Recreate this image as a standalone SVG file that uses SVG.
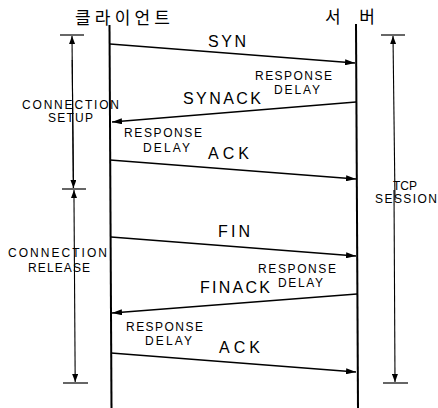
<svg xmlns="http://www.w3.org/2000/svg" width="438" height="408" viewBox="0 0 438 408">
<defs>
<marker id="ah" viewBox="0 0 10 6" refX="10" refY="3" markerWidth="10" markerHeight="6" markerUnits="userSpaceOnUse" orient="auto">
<path d="M0,0 L10,3 L0,6 Z" fill="#000"/>
</marker>
<marker id="bh" viewBox="0 0 8 6" refX="8" refY="3" markerWidth="8" markerHeight="6" markerUnits="userSpaceOnUse" orient="auto">
<path d="M0,0 L8,3 L0,6 Z" fill="#000"/>
</marker>
</defs>
<style>
.life{stroke:#000;stroke-width:2;fill:none}
.msg{stroke:#000;stroke-width:1.6;fill:none;marker-end:url(#ah)}
.br{stroke:#000;stroke-width:1.1;fill:none}
.tick{stroke:#000;stroke-width:1.2}
.kr{font-family:"Noto Sans CJK KR","Noto Sans",sans-serif;font-size:17px;fill:#000}
.ml{font-family:"Liberation Sans",Arial,sans-serif;font-size:16px;fill:#000}
.sl{font-family:"Liberation Sans",Arial,sans-serif;font-size:12px;fill:#000}
</style>
<rect width="438" height="408" fill="#fff"/>

<g id="client">
<line class="life" x1="109.5" y1="25" x2="111.5" y2="408"/>
<text class="kr" x="75" y="24" textLength="95" lengthAdjust="spacing">클라이언트</text>
</g>
<g id="server">
<line class="life" x1="356" y1="24" x2="358" y2="408"/>
<text class="kr" x="325" y="23" textLength="50" lengthAdjust="spacing" xml:space="preserve">서 버</text>
</g>

<g id="connection-setup">
<line class="tick" x1="60" y1="35" x2="84" y2="35"/>
<line class="tick" x1="62" y1="189" x2="86" y2="189"/>
<text class="sl" x="22" y="109" textLength="97" lengthAdjust="spacing">CONNECTION</text>
<text class="sl" x="48" y="122" textLength="45" lengthAdjust="spacing">SETUP</text>
</g>
<g id="connection-release">
<line class="tick" x1="63" y1="383" x2="88" y2="383"/>
<text class="sl" x="8" y="257" textLength="99" lengthAdjust="spacing">CONNECTION</text>
<text class="sl" x="28" y="272" textLength="62" lengthAdjust="spacing">RELEASE</text>
</g>
<g id="tcp-session">
<line class="tick" x1="381" y1="35" x2="405" y2="35"/>
<line class="tick" x1="383" y1="383" x2="408" y2="383"/>
<text class="sl" x="393" y="190" textLength="24" lengthAdjust="spacing">TCP</text>
<text class="sl" x="375" y="203" textLength="62" lengthAdjust="spacing">SESSION</text>
</g>

<g id="connectors">
<line class="msg" x1="110" y1="44" x2="355" y2="63"/>
<line class="msg" x1="356" y1="102" x2="112" y2="122"/>
<line class="msg" x1="110" y1="160" x2="356" y2="179"/>
<line class="msg" x1="111" y1="237" x2="356" y2="256"/>
<line class="msg" x1="357" y1="294" x2="112" y2="313"/>
<line class="msg" x1="111" y1="353" x2="356" y2="372"/>
<line class="br" x1="73.3" y1="188" x2="72" y2="36" marker-end="url(#bh)"/>
<line class="br" x1="72.2" y1="60" x2="73.5" y2="188" marker-end="url(#bh)"/>
<line class="br" x1="74" y1="200" x2="74" y2="190" marker-end="url(#bh)"/>
<line class="br" x1="74" y1="200" x2="75.2" y2="382" marker-end="url(#bh)"/>
<line class="br" x1="395" y1="200" x2="393" y2="36" marker-end="url(#bh)"/>
<line class="br" x1="394" y1="190" x2="395" y2="382" marker-end="url(#bh)"/>
</g>

<g id="labels">
<text class="ml" x="208" y="47" textLength="38" lengthAdjust="spacing">SYN</text>
<text class="sl" x="255" y="80" textLength="77" lengthAdjust="spacing">RESPONSE</text>
<text class="sl" x="274" y="94" textLength="46" lengthAdjust="spacing">DELAY</text>
<text class="ml" x="183" y="104" textLength="78" lengthAdjust="spacing">SYNACK</text>
<text class="sl" x="124" y="137" textLength="78" lengthAdjust="spacing">RESPONSE</text>
<text class="sl" x="143" y="152" textLength="47" lengthAdjust="spacing">DELAY</text>
<text class="ml" x="208" y="159" textLength="41" lengthAdjust="spacing">ACK</text>
<text class="ml" x="218" y="237" textLength="32" lengthAdjust="spacing">FIN</text>
<text class="sl" x="258" y="273" textLength="78" lengthAdjust="spacing">RESPONSE</text>
<text class="sl" x="278" y="287" textLength="45" lengthAdjust="spacing">DELAY</text>
<text class="ml" x="200" y="293" textLength="70" lengthAdjust="spacing">FINACK</text>
<text class="sl" x="126" y="331" textLength="77" lengthAdjust="spacing">RESPONSE</text>
<text class="sl" x="145" y="345" textLength="47" lengthAdjust="spacing">DELAY</text>
<text class="ml" x="219" y="353" textLength="41" lengthAdjust="spacing">ACK</text>
</g>
</svg>
